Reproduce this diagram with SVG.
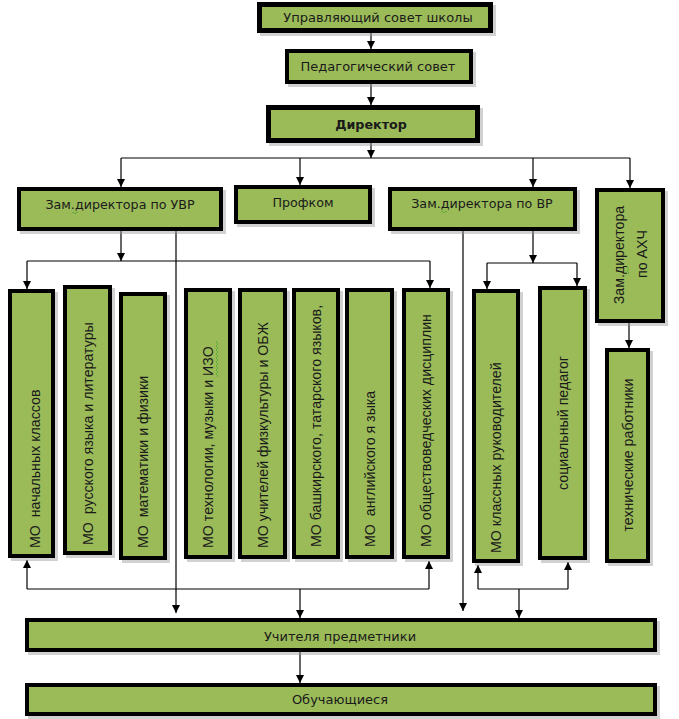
<svg xmlns="http://www.w3.org/2000/svg" width="679" height="719" viewBox="0 0 679 719">
<defs>
<marker id="arr" markerUnits="userSpaceOnUse" markerWidth="8" markerHeight="8" refX="8" refY="4" orient="auto">
<path d="M0,0 L8,4 L0,8 z" fill="#000"/>
</marker>
<style>
.box{fill:#9BBB59;stroke:#000;stroke-width:4}
.thick{stroke-width:5}
.sh{fill:#9a9a9a;opacity:0.45}
.h{font-family:"DejaVu Sans",Verdana,sans-serif;font-size:12.7px;fill:#1a1a1a;text-anchor:middle}
.big{font-size:13px}
.hb{font-weight:bold}
.v{font-family:"Liberation Sans",Arial,sans-serif;font-size:14.2px;fill:#1a1a1a;white-space:pre}
.c{text-anchor:middle}
.ln{fill:none;stroke:#000;stroke-width:1.2}
.sq{fill:none;stroke:#5fae3a;stroke-width:1}
</style>
</defs>
<rect width="679" height="719" fill="#fff"/>

<g id="connectors">
<path class="ln" d="M371,33 V49" marker-end="url(#arr)"/>
<path class="ln" d="M371,84 V105" marker-end="url(#arr)"/>
<path class="ln" d="M371,143 V158" marker-end="url(#arr)"/>
<path class="ln" d="M121,158 H630"/>
<path class="ln" d="M121,158 V187" marker-end="url(#arr)"/>
<path class="ln" d="M300,158 V185" marker-end="url(#arr)"/>
<path class="ln" d="M533,158 V187" marker-end="url(#arr)"/>
<path class="ln" d="M630,158 V188" marker-end="url(#arr)"/>
<path class="ln" d="M121,231 V261" marker-end="url(#arr)"/>
<path class="ln" d="M27,261 H430"/>
<path class="ln" d="M27,261 V289" marker-end="url(#arr)"/>
<path class="ln" d="M430,261 V288" marker-end="url(#arr)"/>
<path class="ln" d="M176,231 V613" marker-end="url(#arr)"/>
<path class="ln" d="M463,231 V611" marker-end="url(#arr)"/>
<path class="ln" d="M533,231 V263" marker-end="url(#arr)"/>
<path class="ln" d="M487,263 H577"/>
<path class="ln" d="M487,263 V289" marker-end="url(#arr)"/>
<path class="ln" d="M577,263 V286" marker-end="url(#arr)"/>
<path class="ln" d="M629,323 V348" marker-end="url(#arr)"/>
<path class="ln" d="M27,589 H429"/>
<path class="ln" d="M27,589 V560" marker-end="url(#arr)"/>
<path class="ln" d="M429,589 V561" marker-end="url(#arr)"/>
<path class="ln" d="M300,589 V618" marker-end="url(#arr)"/>
<path class="ln" d="M478,589 H568"/>
<path class="ln" d="M478,589 V565" marker-end="url(#arr)"/>
<path class="ln" d="M568,589 V562" marker-end="url(#arr)"/>
<path class="ln" d="M519,589 V618" marker-end="url(#arr)"/>
<path class="ln" d="M300,652 V683" marker-end="url(#arr)"/>
</g>

<g id="upr">
<rect class="sh" x="260" y="5" width="236" height="31"/>
<rect class="box thick" x="259.5" y="4.5" width="231" height="26"/>
<text class="h big" x="378" y="22">Управляющий совет школы</text>
</g>
<g id="ped">
<rect class="sh" x="288" y="52" width="188" height="35"/>
<rect class="box" x="287" y="51" width="184" height="31"/>
<text class="h big" x="378" y="71">Педагогический совет</text>
</g>
<g id="dir">
<rect class="sh" x="269" y="108" width="214" height="38"/>
<rect class="box thick" x="268.5" y="107.5" width="209" height="33"/>
<text class="h hb" x="371" y="129">Директор</text>
</g>
<g id="zamUVR">
<rect class="sh" x="20" y="190" width="206" height="44"/>
<rect class="box" x="19" y="189" width="202" height="40"/>
<text class="h" x="120" y="209">Зам.директора по УВР</text>
<path class="sq" d="M72,213 q1,-2 2,0 t2,0 t2,0"/>
</g>
<g id="profkom">
<rect class="sh" x="237" y="188" width="138" height="39"/>
<rect class="box" x="236" y="187" width="134" height="35"/>
<text class="h" x="303" y="207">Профком</text>
</g>
<g id="zamVR">
<rect class="sh" x="391" y="190" width="189" height="44"/>
<rect class="box" x="390" y="189" width="185" height="40"/>
<text class="h" x="482" y="208">Зам.директора по ВР</text>
<path class="sq" d="M441,212 q1,-2 2,0 t2,0 t2,0"/>
</g>
<g id="zamAHC">
<rect class="sh" x="598" y="191" width="70" height="135"/>
<rect class="box" x="597" y="190" width="66" height="131"/>
<text class="v c" transform="translate(624,255) rotate(-90)">Зам.директора</text>
<text class="v c" transform="translate(647,254) rotate(-90)">по АХЧ</text>
<path class="sq" d="M628,266 q-2,1 0,2 t0,2 t0,2 t0,2"/>
</g>

<g id="mo1">
<rect class="sh" x="11" y="292" width="47" height="269"/>
<rect class="box" x="10" y="291" width="43" height="265"/>
<text class="v" xml:space="preserve" transform="translate(40,548) rotate(-90)">МО  начальных классов</text>
</g>
<g id="mo2">
<rect class="sh" x="66" y="288" width="49" height="270"/>
<rect class="box" x="65" y="287" width="45" height="266"/>
<text class="v" xml:space="preserve" transform="translate(92.5,545) rotate(-90)">МО  русского языка и литературы</text>
</g>
<g id="mo3">
<rect class="sh" x="122" y="295" width="48" height="268"/>
<rect class="box" x="121" y="294" width="44" height="264"/>
<text class="v" xml:space="preserve" transform="translate(148,548) rotate(-90)">МО  математики и физики</text>
</g>
<g id="mo4">
<rect class="sh" x="187" y="291" width="48" height="271"/>
<rect class="box" x="186" y="290" width="44" height="267"/>
<text class="v" transform="translate(213,548) rotate(-90)">МО технологии, музыки и ИЗО</text>
<path class="sq" d="M217,377 q2,-1 0,-2 t0,-2 t0,-2 t0,-2 t0,-2 t0,-2 t0,-2 t0,-2 t0,-2 t0,-2 t0,-2 t0,-2 t0,-2 t0,-2 t0,-2 t0,-2 t0,-2 t0,-2"/>
</g>
<g id="mo5">
<rect class="sh" x="241" y="291" width="49" height="271"/>
<rect class="box" x="240" y="290" width="45" height="267"/>
<text class="v" transform="translate(267.5,548) rotate(-90)">МО учителей физкультуры и ОБЖ</text>
</g>
<g id="mo6">
<rect class="sh" x="295" y="291" width="48" height="271"/>
<rect class="box" x="294" y="290" width="44" height="267"/>
<text class="v" transform="translate(321,547) rotate(-90)">МО башкирского, татарского языков,</text>
</g>
<g id="mo7">
<rect class="sh" x="348" y="291" width="49" height="271"/>
<rect class="box" x="347" y="290" width="45" height="267"/>
<text class="v" xml:space="preserve" transform="translate(374.5,547) rotate(-90)">МО  английского я зыка</text>
</g>
<g id="mo8">
<rect class="sh" x="405" y="291" width="48" height="271"/>
<rect class="box" x="404" y="290" width="44" height="267"/>
<text class="v" transform="translate(431,547) rotate(-90)">МО обществоведческих дисциплин</text>
</g>
<g id="mo9">
<rect class="sh" x="475" y="292" width="48" height="274"/>
<rect class="box" x="474" y="291" width="44" height="270"/>
<text class="v" transform="translate(501,553) rotate(-90)">МО классных руководителей</text>
</g>
<g id="socped">
<rect class="sh" x="541" y="289" width="49" height="274"/>
<rect class="box" x="540" y="288" width="45" height="270"/>
<text class="v c" transform="translate(567.5,423) rotate(-90)">социальный педагог</text>
</g>
<g id="tech">
<rect class="sh" x="608" y="351" width="45" height="215"/>
<rect class="box" x="607" y="350" width="41" height="211"/>
<text class="v c" transform="translate(632.5,455) rotate(-90)">технические работники</text>
</g>

<g id="uch">
<rect class="sh" x="28" y="621" width="632" height="34"/>
<rect class="box" x="27" y="620" width="628" height="30"/>
<text class="h big" x="340" y="641">Учителя предметники</text>
</g>
<g id="obuch">
<rect class="sh" x="28" y="686" width="632" height="33"/>
<rect class="box" x="27" y="685" width="628" height="29"/>
<text class="h big" x="340" y="704">Обучающиеся</text>
</g>
</svg>
